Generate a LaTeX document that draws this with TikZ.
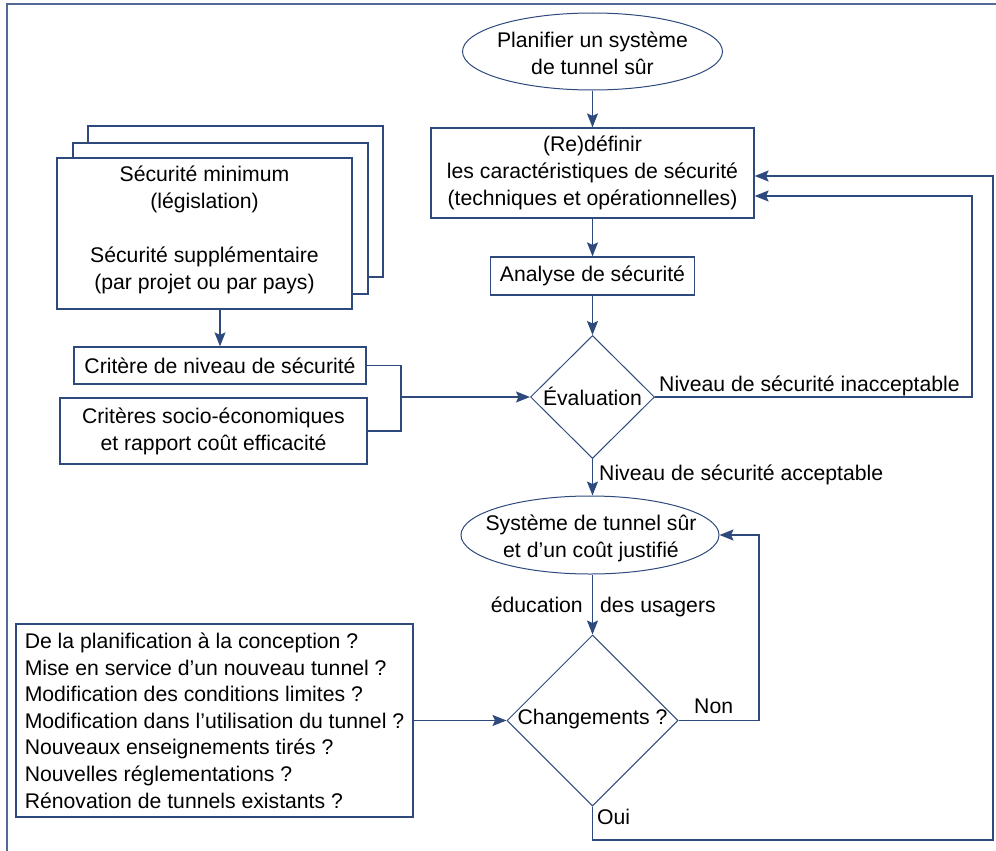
\documentclass[tikz,border=0pt]{standalone}
\usepackage{fontspec}
\setmainfont{Liberation Sans}
\usetikzlibrary{arrows.meta,shapes.geometric}
\definecolor{lc}{RGB}{46,74,125}
\definecolor{fc}{RGB}{85,105,150}
\begin{document}
\begin{tikzpicture}[x=1pt,y=-1pt,
  every node/.style={font=\fontsize{21.2}{27}\selectfont, text=black},
  box/.style={draw=lc, line width=1.2pt, fill=white, rectangle, inner sep=0pt, align=center},
  oval/.style={draw=lc, line width=1pt, ellipse, inner sep=0pt},
  dia/.style={draw=lc, line width=1pt, diamond, inner sep=0pt},
  conn/.style={draw=lc, line width=1.4pt},
  arr/.style={conn, -{Stealth[length=14pt,width=11pt,inset=2.5pt]}},
  lbl/.style={inner sep=0pt}
]
\useasboundingbox (0,0) rectangle (996,851);
% frame
\draw[fc, line width=2.2pt] (7,851) -- (7,4) -- (996,4);

% stacked boxes
\node[box, minimum width=295, minimum height=151] (back) at (235.5,201.5) {};
\node[box, minimum width=295, minimum height=151] (mid) at (220.5,218.5) {};
\node[box, minimum width=295, minimum height=151] (front) at (204.5,233.5) {};
\node[lbl, align=center] (fronttxt) at (204.5,230) {Sécurité minimum\\(législation)\\[27pt]Sécurité supplémentaire\\(par projet ou par pays)};

% main column
\node[oval, minimum width=260, minimum height=77] (start) at (592.5,51.5) {};
\node[lbl, align=center] (starttxt) at (592.5,53) {Planifier un système\\de tunnel sûr};
\node[box, minimum width=323, minimum height=90] (redef) at (592.5,173) {(Re)définir\\les caractéristiques de sécurité\\(techniques et opérationnelles)};
\node[box, minimum width=204, minimum height=38] (analyse) at (592.5,276) {Analyse de sécurité};
\node[dia, minimum width=124, minimum height=123] (eval) at (592.5,397) {};
\node[lbl] (evaltxt) at (592.5,396) {Évaluation};

\node[box, minimum width=292, minimum height=37] (crit1) at (220,365.5) {Critère de niveau de sécurité};
\node[box, minimum width=307, minimum height=66] (crit2) at (213.5,431) {Critères socio-économiques\\et rapport coût efficacité};

\node[oval, minimum width=258, minimum height=78] (ell2) at (590,535) {};
\node[lbl, align=center] (ell2txt) at (591,538) {Système de tunnel sûr\\et d’un coût justifié};

\node[dia, minimum width=171, minimum height=171] (chg) at (592.5,720.5) {};
\node[lbl] (chgtxt) at (592.5,719) {Changements ?};

\node[box, align=left, minimum width=397, minimum height=193, font=\fontsize{21.2}{26.6}\selectfont] (quest) at (214.5,720.5) {De la planification à la conception ?\\Mise en service d’un nouveau tunnel ?\\Modification des conditions limites ?\\Modification dans l’utilisation du tunnel ?\\Nouveaux enseignements tirés ?\\Nouvelles réglementations ?\\Rénovation de tunnels existants ?};

% labels
\node[lbl, anchor=base west] (lblinacc) at (659,391) {Niveau de sécurité inacceptable};
\node[lbl, anchor=base west] (lblacc) at (599,480) {Niveau de sécurité acceptable};
\node[lbl, anchor=base east] (lbledu) at (583,612) {éducation};
\node[lbl, anchor=base west] (lblusa) at (600,612) {des usagers};
\node[lbl, anchor=base west] (lblnon) at (694,713) {Non};
\node[lbl, anchor=base west] (lbloui) at (597,824) {Oui};

% helper coordinates
\coordinate (c1) at (972,196);
\coordinate (c2) at (993,176);
\coordinate (c3) at (759,535);
\coordinate (c4) at (993,840);
\coordinate (j1) at (401,397);

% connectors
\draw[arr] (start.south) -- (redef.north);
\draw[arr] (redef.south) -- (analyse.north);
\draw[arr] (analyse.south) -- (eval.north);
\draw[arr] (eval.south) -- (ell2.north -| eval.south);
\draw[arr] (ell2.south -| chg.north) -- (chg.north);
\draw[arr] (eval.east) -- (eval.east -| c1) -- (c1) -- (c1 -| redef.east);
\draw[arr] (chg.south) -- (chg.south |- c4) -- (c4) -- (c2) -- (c2 -| redef.east);
\draw[arr] (chg.east) -- (chg.east -| c3) -- (c3) -- (ell2.east);
\draw[conn] (crit1.east) -- (crit1.east -| j1) -- (j1 |- crit2.east) -- (crit2.east);
\draw[arr] (j1) -- (eval.west);
\draw[arr] (crit1.north |- front.south) -- (crit1.north);
\draw[arr] (quest.east) -- (chg.west);
\end{tikzpicture}
\end{document}
